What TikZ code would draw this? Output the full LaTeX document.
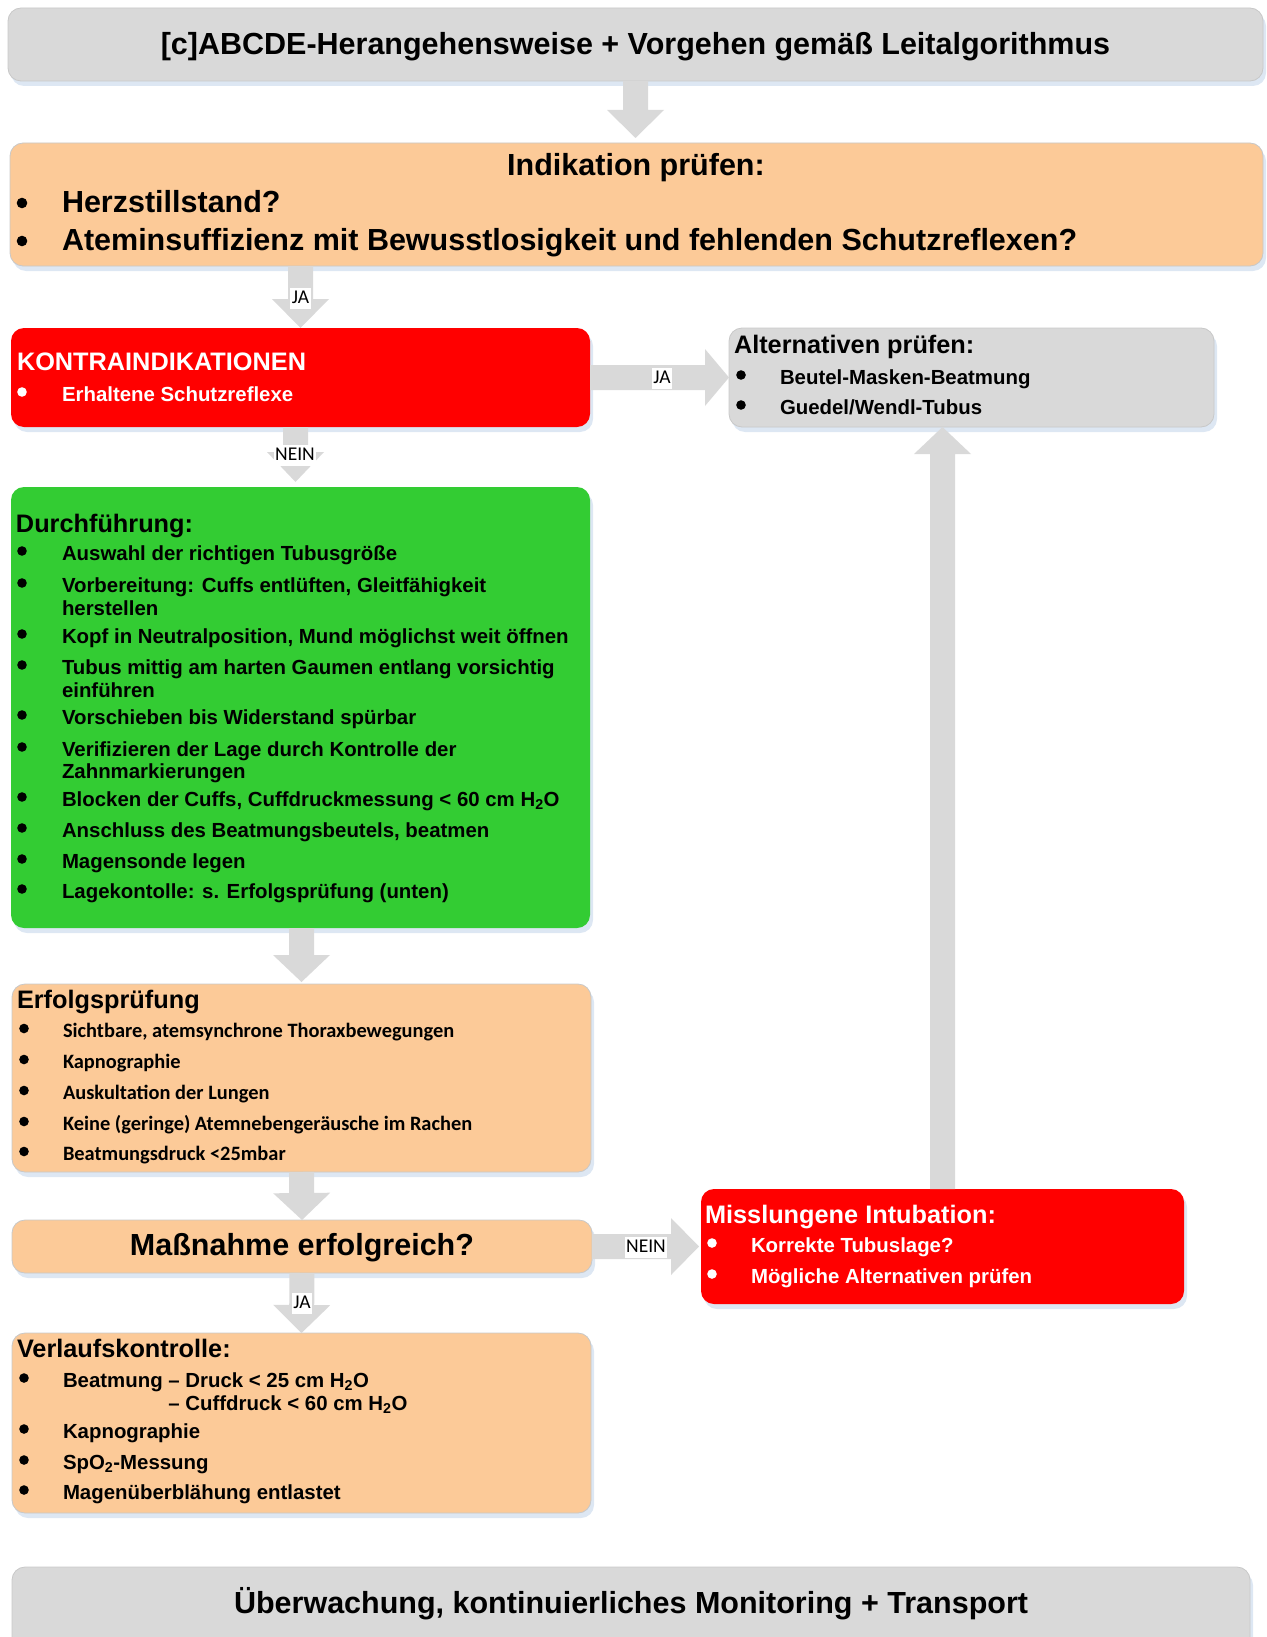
\documentclass[tikz,border=0pt]{standalone}
\usepackage{fontspec}
\setmainfont{Liberation Sans}
\newfontfamily\carlito{Carlito}
\usetikzlibrary{calc,shadows}

\definecolor{boxgray}{RGB}{217,217,217}
\definecolor{peach}{RGB}{252,202,152}
\definecolor{okgreen}{RGB}{51,204,51}
\definecolor{alarmred}{RGB}{255,0,0}
\definecolor{arrowgray}{RGB}{217,217,217}
\definecolor{shadowblue}{RGB}{221,231,243}
\definecolor{edgegray}{RGB}{200,200,200}

% broad block arrow: #1 head length, #2 start point, #3 tip
\newcommand\fatarrow[3][28]{%
  \coordinate (fa-s) at (#2);
  \coordinate (fa-t) at (#3);
  \coordinate (fa-h) at ($(fa-t)!#1pt!(fa-s)$);
  \fill[arrowgray]
    ($(fa-s)!12.5pt!90:(fa-t)$) -- ($(fa-h)!12.5pt!90:(fa-t)$) --
    ($(fa-h)!28.5pt!90:(fa-t)$) -- (fa-t) --
    ($(fa-h)!28.5pt!-90:(fa-t)$) -- ($(fa-h)!12.5pt!-90:(fa-t)$) --
    ($(fa-s)!12.5pt!-90:(fa-t)$) -- cycle;}

% list bullet: #1 colour, #2 x, #3 y
\newcommand\bul[3][black]{\fill[#1] (#2,#3) circle (4.8pt);}

\tikzset{
  box/.style={rectangle, rounded corners=13pt, inner sep=0pt, outer sep=0pt,
    anchor=north west,
    drop shadow={shadow xshift=3pt, shadow yshift=-5pt, fill=shadowblue, opacity=1}},
  graybox/.style={box, fill=boxgray, draw=edgegray, line width=0.8pt},
  peachbox/.style={box, fill=peach, draw=edgegray, line width=0.8pt},
  greenbox/.style={box, fill=okgreen},
  redbox/.style={box, fill=alarmred},
  txt/.style={anchor=base west, inner sep=0pt, outer sep=0pt},
  fL/.style={font=\fontsize{30.5}{36}\selectfont\bfseries, inner sep=0pt},
  fM/.style={font=\fontsize{25.3}{30}\selectfont\bfseries},
  fS/.style={font=\fontsize{20.4}{24}\selectfont\bfseries},
  fC/.style={font=\fontsize{20.4}{24}\selectfont\carlito\bfseries},
  lab/.style={fill=white, inner sep=1.5pt, text height=14pt, text depth=4pt,
    font=\fontsize{19.5}{22}\selectfont\carlito},
}

\begin{document}
\begin{tikzpicture}[x=1pt,y=-1pt]
\useasboundingbox (0,0) rectangle (1266,1637);

% ---------- boxes ----------
\node[graybox, minimum width=1255pt, minimum height=73pt] (top) at (8,8) {};
\node[peachbox, minimum width=1253pt, minimum height=123pt] (ind) at (10,143) {};
\node[redbox, minimum width=579pt, minimum height=99pt] (kon) at (11,328) {};
\node[graybox, minimum width=485pt, minimum height=99pt] (alt) at (729,328) {};
\node[greenbox, minimum width=579pt, minimum height=441pt] (dur) at (11,487) {};
\node[peachbox, minimum width=579pt, minimum height=188pt] (erf) at (12,984) {};
\node[peachbox, minimum width=580pt, minimum height=53pt] (mas) at (12,1220) {};
\node[redbox, minimum width=483pt, minimum height=115pt] (mis) at (701,1189) {};
\node[peachbox, minimum width=579pt, minimum height=180pt] (ver) at (12,1333) {};
\node[graybox, minimum width=1238pt, minimum height=95pt] (bot) at (12,1567) {};

% ---------- connectors ----------
\fatarrow{top.south}{$(top.south |- ind.north)+(0,-5)$}
\fatarrow[29]{ind.south -| kon.north}{kon.north}
\fatarrow[24]{kon.east}{alt.west}
\fatarrow[30]{$(kon.south)+(-5,0)$}{$(kon.south |- dur.north)+(-5,-5)$}
\fatarrow[27]{dur.south -| erf.north}{$(erf.north)+(0,-2)$}
\fatarrow[27]{erf.south}{mas.north}
\fatarrow{mas.south}{ver.north}
\fatarrow{mas.east}{$(mis.west |- mas.east)+(-2,0)$}
\fatarrow[27]{mis.north}{mis.north |- alt.south}

\node[lab] (ja1) at (300.5,298) {JA};
\node[lab] (ja2) at (662,378) {JA};
\node[lab] (nein1) at (295,455) {NEIN};
\node[lab] (nein2) at (646,1247) {NEIN};
\node[lab] (ja3) at (302,1303) {JA};

% ---------- header ----------
\node[fL, anchor=base] (toptxt) at (635.5,55) {[c]ABCDE-Herangehensweise + Vorgehen gemäß Leitalgorithmus};

% ---------- indication ----------
\node[fL, anchor=base] (indt) at (636,176) {Indikation prüfen:};
\fill (22,203) circle (5.3pt);
\fill (22,241) circle (5.3pt);
\node[fL, txt] (ind1) at (62,213) {Herzstillstand?};
\node[fL, txt] (ind2) at (62,251) {Ateminsuffizienz mit Bewusstlosigkeit und fehlenden Schutzreflexen?};

% ---------- contraindications ----------
\node[fM, txt, white] (kont) at (17,370) {KONTRAINDIKATIONEN};
\bul[white]{22}{392}
\node[fS, txt, white] (kon1) at (62,401) {Erhaltene Schutzreflexe};

% ---------- alternatives ----------
\node[fM, txt] (altt) at (734,353) {Alternativen prüfen:};
\bul{741}{375}
\bul{741}{405}
\node[fS, txt] (alt1) at (780,384) {Beutel-Masken-Beatmung};
\node[fS, txt] (alt2) at (780,414) {Guedel/Wendl-Tubus};

% ---------- procedure ----------
\node[fM, txt] (durt) at (16,532) {Durchführung:};
\bul{22}{551}
\node[fS, txt] (d1) at (62,560) {Auswahl der richtigen Tubusgröße};
\bul{22}{583}
\node[fS, txt] (d2) at (62,592) {Vorbereitung: Cuffs entlüften, Gleitfähigkeit};
\node[fS, txt] (d2b) at (62,615) {herstellen};
\bul{22}{634}
\node[fS, txt] (d3) at (62,643) {Kopf in Neutralposition, Mund möglichst weit öffnen};
\bul{22}{665}
\node[fS, txt] (d4) at (62,674) {Tubus mittig am harten Gaumen entlang vorsichtig};
\node[fS, txt] (d4b) at (62,697) {einführen};
\bul{22}{715}
\node[fS, txt] (d5) at (62,724) {Vorschieben bis Widerstand spürbar};
\bul{22}{747}
\node[fS, txt] (d6) at (62,756) {Verifizieren der Lage durch Kontrolle der};
\node[fS, txt] (d6b) at (62,778) {Zahnmarkierungen};
\bul{22}{797}
\node[fS, txt] (d7) at (62,806) {Blocken der Cuffs, Cuffdruckmessung < 60 cm H\textsubscript{2}O};
\bul{22}{828}
\node[fS, txt] (d8) at (62,837) {Anschluss des Beatmungsbeutels, beatmen};
\bul{22}{859}
\node[fS, txt] (d9) at (62,868) {Magensonde legen};
\bul{22}{889}
\node[fS, txt] (d10) at (62,898) {Lagekontolle: s. Erfolgsprüfung (unten)};

% ---------- success check ----------
\node[fM, txt] (erft) at (17,1008) {Erfolgsprüfung};
\bul{24}{1028.5}
\node[fC, txt] (e1) at (63,1037) {Sichtbare, atemsynchrone Thoraxbewegungen};
\bul{24}{1059.5}
\node[fC, txt] (e2) at (63,1068) {Kapnographie};
\bul{24}{1090.5}
\node[fC, txt] (e3) at (63,1099) {Auskultation der Lungen};
\bul{24}{1121.5}
\node[fC, txt] (e4) at (63,1130) {Keine (geringe) Atemnebengeräusche im Rachen};
\bul{24}{1151.5}
\node[fC, txt] (e5) at (63,1160) {Beatmungsdruck <25mbar};

% ---------- decision ----------
\node[fL, anchor=base] (mast) at (302,1255) {Maßnahme erfolgreich?};

% ---------- failed intubation ----------
\node[fM, txt, white] (mist) at (705,1223) {Misslungene Intubation:};
\bul[white]{712}{1243}
\node[fS, txt, white] (mis1) at (751,1252) {Korrekte Tubuslage?};
\bul[white]{712}{1274}
\node[fS, txt, white] (mis2) at (751,1283) {Mögliche Alternativen prüfen};

% ---------- follow-up ----------
\node[fM, txt] (vert) at (17,1357) {Verlaufskontrolle:};
\bul{24}{1378}
\node[fS, txt] (v1) at (63,1387) {Beatmung – Druck < 25 cm H\textsubscript{2}O};
\node[fS, txt] (v1b) at (63,1410) {\phantom{Beatmung\ }– Cuffdruck < 60 cm H\textsubscript{2}O};
\bul{24}{1429}
\node[fS, txt] (v2) at (63,1438) {Kapnographie};
\bul{24}{1460}
\node[fS, txt] (v3) at (63,1469) {SpO\textsubscript{2}-Messung};
\bul{24}{1490}
\node[fS, txt] (v4) at (63,1499) {Magenüberblähung entlastet};

% ---------- footer ----------
\node[fL, anchor=base] (bott) at (631,1613) {Überwachung, kontinuierliches Monitoring + Transport};
\end{tikzpicture}
\end{document}
